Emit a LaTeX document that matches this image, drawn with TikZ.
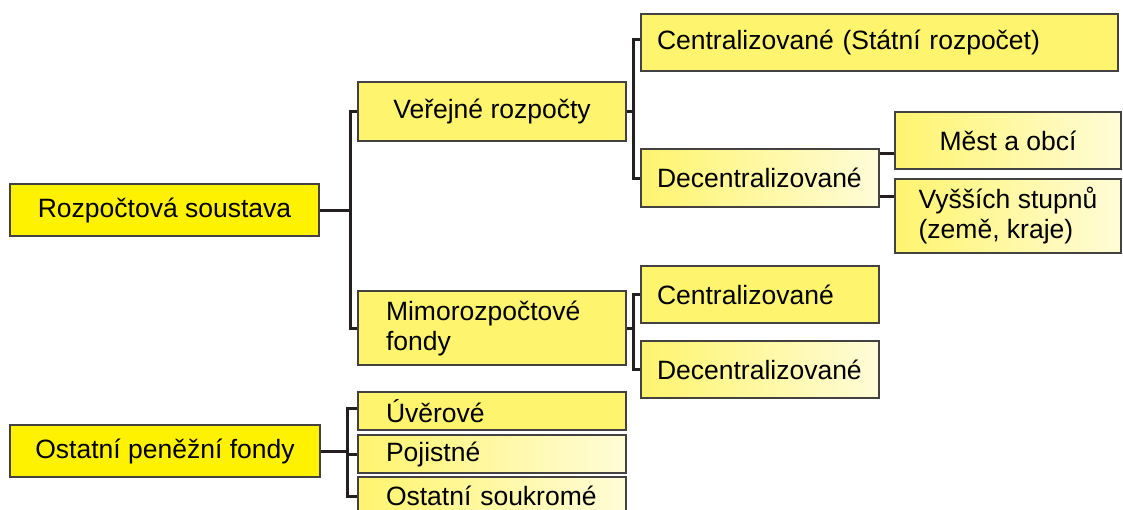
\documentclass[tikz,border=0pt]{standalone}
\usepackage{fontspec}
\setmainfont{Liberation Sans}

\definecolor{rootyel}{HTML}{FFF200}
\definecolor{boxyel}{HTML}{FFF46E}
\definecolor{paleyel}{HTML}{FFFCD8}
\definecolor{linec}{HTML}{231F20}

\begin{document}
\begin{tikzpicture}
        [
            x = 1pt, y = -1pt,
            boxed/.style    = {shape=rectangle, draw=linec!85, line width=1.6pt, inner ysep=0pt,
                               font=\fontsize{26.5}{30}\selectfont},
            rootbox/.style  = {boxed, fill=rootyel, align=center},
            plainbox/.style = {boxed, fill=boxyel},
            fadebox/.style  = {boxed, left color=boxyel, right color=paleyel},
            link/.style     = {draw=linec, line width=3pt},
        ]
        \useasboundingbox (0,0) rectangle (1123,509);
        \clip (0,0) rectangle (1123,509);

        % first tree
        \node [rootbox, minimum width=309pt, minimum height=52pt] (rs) at (164.5,210) {Rozpočtová soustava};
        \node [plainbox, align=center, minimum width=268pt, minimum height=59pt] (vr) at (492,111.5) {Veřejné rozpočty};
        \node [plainbox, align=left, text width=212pt, inner xsep=28pt, minimum height=74pt] (mf) at (492,328) {Mimorozpočtové\\fondy};
        \node [plainbox, align=left, text width=445pt, inner xsep=16pt, minimum height=57pt] (cs) at (879.5,42.5) {Centralizované (Státní rozpočet)};
        \node [fadebox, align=left, text width=206pt, inner xsep=16pt, minimum height=58pt] (dc) at (760,178) {Decentralizované};
        \node [fadebox, align=center, minimum width=226pt, minimum height=57pt] (mo) at (1008,140.5) {Měst a obcí};
        \node [fadebox, align=left, minimum width=226pt, minimum height=74pt] (vs) at (1008,216) {Vyšších stupnů\\(země, kraje)};
        \node [plainbox, align=left, text width=206pt, inner xsep=16pt, minimum height=57pt] (mc) at (760,294.5) {Centralizované};
        \node [fadebox, align=left, text width=206pt, inner xsep=16pt, minimum height=57pt] (md) at (760,369.5) {Decentralizované};

        % second tree
        \node [rootbox, minimum width=310pt, minimum height=52pt] (of) at (165,451) {Ostatní peněžní fondy};
        \node [plainbox, align=left, text width=212pt, inner xsep=28pt, minimum height=38pt] (uv) at (492,411) {Úvěrové};
        \node [fadebox, align=left, text width=212pt, inner xsep=28pt, minimum height=38pt] (pj) at (492,454) {Pojistné};
        \node [fadebox, align=left, text width=212pt, inner xsep=28pt, minimum height=38pt] (os) at (492,496) {Ostatní soukromé};

        \coordinate (t1) at (350,0);
        \coordinate (t2) at (633,0);
        \coordinate (t3) at (347,0);

        \draw [link] (rs.east) -- (rs.east -| t1);
        \draw [link] (vr.west) -- (vr.west -| t1) -- (mf.west -| t1) -- (mf.west);

        \draw [link] (vr.east) -- (vr.east -| t2);
        \draw [link] ([yshift=3pt]cs.west) -- ([yshift=3pt]cs.west -| t2) -- (dc.west -| t2) -- (dc.west);
        \draw [link] ([yshift=-5pt]dc.north east) -- ([yshift=-5pt]dc.north east -| mo.west);
        \draw [link] ([yshift=-18pt]vs.north west) -- ([yshift=-18pt]vs.north west -| dc.east);

        \draw [link] (mf.east) -- (mf.east -| t2);
        \draw [link] (mc.west) -- (mc.west -| t2) -- (md.west -| t2) -- (md.west);

        \draw [link] (of.east) -- (of.east -| t3);
        \draw [link] ([yshift=3pt]uv.west) -- ([yshift=3pt]uv.west -| t3) -- (os.west -| t3) -- (os.west);
        \draw [link] (pj.west) -- (pj.west -| t3);
    \end{tikzpicture}
\end{document}
